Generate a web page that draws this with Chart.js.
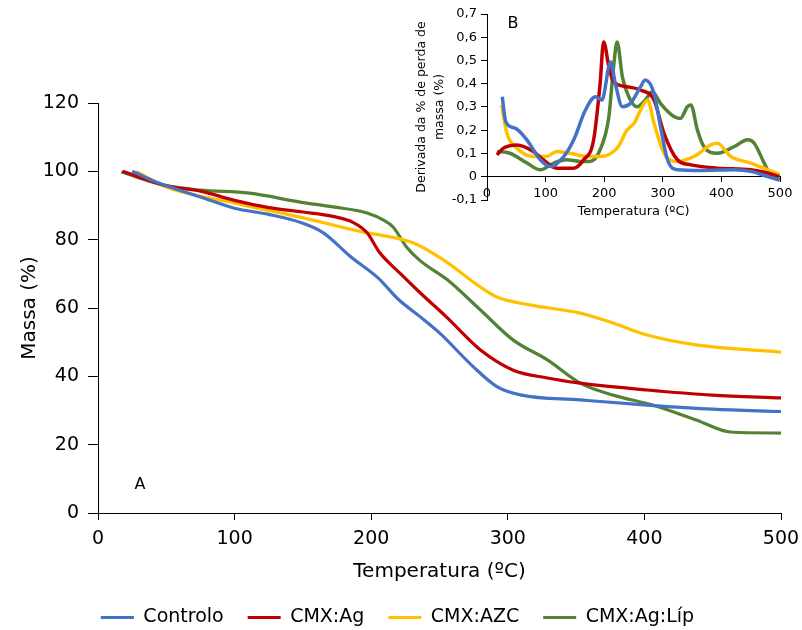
<!DOCTYPE html>
<html>
<head>
<meta charset="utf-8">
<script src="https://cdn.jsdelivr.net/npm/chart.js@4.4.0/dist/chart.umd.min.js"></script>
<style>
  html, body { margin: 0; padding: 0; background: #fff; overflow: hidden; }
  #wrap { position: relative; width: 802px; height: 630px; }
  #main { position: absolute; left: 0; top: 0; }
  #inset { position: absolute; left: 400px; top: 0; }
  .lbl { position: absolute; font-family: 'DejaVu Sans', sans-serif; font-size: 16px; color: #000; transform: translate(-50%, -50%); }
</style>
</head>
<body>
<div id="wrap">
  <canvas id="main" width="802" height="630"></canvas>
  <canvas id="inset" width="402" height="230"></canvas>
  <div class="lbl" style="left:140px;top:483px;">A</div>
  <div class="lbl" style="left:513px;top:22px;">B</div>
</div>
<script>
// ---------- Data (main chart: Massa (%) vs Temperatura) ----------
const seriesNames = ['Controlo', 'CMX:Ag', 'CMX:AZC', 'CMX:Ag:Líp'];
const seriesColors = ['#4472C4', '#C00000', '#FFC000', '#548235'];

const controloT     = [25, 45, 75, 100, 125, 150, 165, 185, 205, 220, 236, 250, 275, 292, 310, 353, 402, 450, 500];
const controloMassa = [100, 96.5, 92.5, 89.2, 87.4, 84.8, 82, 75, 68.8, 62.5, 57.4, 52.7, 42.7, 37, 34.5, 33.1, 31.6, 30.4, 29.7];

const agT     = [18, 50, 75, 100, 125, 150, 172, 187, 197, 206, 221, 236, 255, 280, 304, 329, 353, 402, 450, 500];
const agMassa = [100, 95.8, 94.2, 91.5, 89.4, 88.1, 86.8, 85, 82, 76.3, 70.2, 64.4, 57.4, 47.7, 41.8, 39.5, 38, 36, 34.5, 33.7];

const azcT     = [28, 50, 100, 148, 197, 206, 231, 255, 280, 292, 316, 353, 377, 402, 438, 500];
const azcMassa = [100, 95.4, 90.7, 86.6, 82, 81.4, 79, 73.5, 66.1, 63.2, 60.9, 58.5, 55.6, 52.1, 49.2, 47.1];

const lipT     = [17, 50, 75, 111, 148, 172, 197, 209, 216, 226, 236, 256, 280, 304, 329, 353, 377, 406, 438, 463, 500];
const lipMassa = [99.8, 95.8, 94.5, 93.6, 91, 89.6, 87.8, 85.7, 83.7, 77.8, 73.8, 68.2, 59.4, 50.6, 44.8, 38, 34.5, 31.6, 27.2, 23.7, 23.4];

// ---------- Data (inset: derivative of % mass loss) ----------
const controloDT = [26, 32, 48, 68, 91, 108, 131, 148, 168, 185, 196, 211, 219, 231, 245, 262, 270, 285, 296, 308, 325, 365, 422, 450, 479, 499];
const controloDeriv = [0.344, 0.237, 0.209, 0.159, 0.073, 0.044, 0.087, 0.159, 0.287, 0.344, 0.33, 0.494, 0.401, 0.301, 0.316, 0.387, 0.416, 0.359, 0.216, 0.073, 0.03, 0.027, 0.03, 0.023, 0.001, -0.013];

const agDT = [17, 28, 51, 79, 96, 119, 148, 165, 182, 193, 199, 208, 216, 239, 262, 285, 302, 325, 348, 393, 450, 479, 499];
const agDeriv = [0.094, 0.123, 0.137, 0.109, 0.073, 0.037, 0.037, 0.073, 0.159, 0.401, 0.58, 0.473, 0.409, 0.387, 0.373, 0.33, 0.187, 0.073, 0.051, 0.037, 0.03, 0.016, 0.001];

const azcDT = [25, 34, 51, 79, 102, 119, 142, 171, 193, 222, 239, 251, 262, 274, 285, 302, 325, 353, 382, 393, 416, 450, 479, 500];
const azcDeriv = [0.309, 0.187, 0.123, 0.087, 0.087, 0.109, 0.101, 0.087, 0.087, 0.123, 0.201, 0.23, 0.287, 0.33, 0.23, 0.101, 0.066, 0.087, 0.137, 0.144, 0.087, 0.059, 0.03, 0.009];

const lipDT = [17, 39, 68, 91, 114, 136, 159, 176, 193, 208, 216, 222, 231, 242, 256, 270, 282, 296, 319, 330, 342, 348, 359, 370, 393, 422, 445, 456, 473, 485, 500];
const lipDeriv = [0.109, 0.101, 0.059, 0.03, 0.059, 0.073, 0.066, 0.066, 0.116, 0.259, 0.473, 0.58, 0.43, 0.344, 0.301, 0.33, 0.366, 0.316, 0.259, 0.251, 0.301, 0.309, 0.201, 0.13, 0.101, 0.13, 0.159, 0.144, 0.059, 0.001, -0.013];

const mainXTicks = [0, 100, 200, 300, 400, 500];
const mainYTicks = [0, 20, 40, 60, 80, 100, 120];

// ---------- helpers ----------
function pts(xs, ys) { return xs.map((x, i) => ({ x: x, y: ys[i] })); }
function ds(label, color, xs, ys, w) {
  return {
    label: label, data: pts(xs, ys),
    borderColor: color, backgroundColor: color,
    borderWidth: w, pointRadius: 0, fill: false,
    cubicInterpolationMode: 'monotone'
  };
}

Chart.defaults.font.family = "'DejaVu Sans', sans-serif";
Chart.defaults.color = '#000';

// ---------- Main chart ----------
new Chart(document.getElementById('main'), {
  type: 'line',
  data: {
    datasets: [
      ds(seriesNames[0], seriesColors[0], controloT, controloMassa, 3.2),
      ds(seriesNames[1], seriesColors[1], agT, agMassa, 3.2),
      ds(seriesNames[2], seriesColors[2], azcT, azcMassa, 3.2),
      ds(seriesNames[3], seriesColors[3], lipT, lipMassa, 3.2)
    ]
  },
  options: {
    responsive: false,
    animation: false,
    layout: { padding: { top: 103, right: 21, left: 14, bottom: -7 } },
    plugins: {
      tooltip: { enabled: false },
      legend: {
        position: 'bottom',
        labels: {
          boxWidth: 33, boxHeight: 3, padding: 24,
          font: { size: 19 }, color: '#000',
          generateLabels: function (chart) {
            const items = Chart.defaults.plugins.legend.labels.generateLabels(chart);
            items.forEach(it => { it.lineWidth = 0; it.fillStyle = it.strokeStyle; });
            return items;
          }
        }
      }
    },
    scales: {
      x: {
        type: 'linear', min: 0, max: 500,
        afterBuildTicks: s => { s.ticks = mainXTicks.map(v => ({ value: v })); },
        ticks: { font: { size: 19 }, color: '#000', padding: 8, maxRotation: 0 },
        grid: { drawOnChartArea: false, drawTicks: true, tickLength: 7, color: '#000' },
        border: { display: true, color: '#000', width: 1 },
        title: { display: true, text: 'Temperatura (ºC)', font: { size: 20 }, color: '#000', padding: { top: 0, bottom: 0 } },
        afterFit: s => { s.height = 71; s.paddingRight = 0; s.paddingLeft = 0; }
      },
      y: {
        type: 'linear', min: 0, max: 120,
        afterBuildTicks: s => { s.ticks = mainYTicks.map(v => ({ value: v })); },
        ticks: { font: { size: 19 }, color: '#000', padding: 9 },
        grid: { drawOnChartArea: false, drawTicks: true, tickLength: 10, color: '#000' },
        border: { display: true, color: '#000', width: 1 },
        title: { display: true, text: 'Massa (%)', font: { size: 20 }, color: '#000', padding: { top: 4, bottom: 4 } },
        afterFit: s => { s.width = 84; }
      }
    }
  }
});

// ---------- Inset chart ----------
const insetXTicks = [0, 100, 200, 300, 400, 500];
const insetYTicks = [-0.1, 0, 0.1, 0.2, 0.3, 0.4, 0.5, 0.6, 0.7];
function fmtComma(v) { return Math.abs(v) < 1e-9 ? '0' : v.toFixed(1).replace('.', ','); }

new Chart(document.getElementById('inset'), {
  type: 'line',
  data: {
    datasets: [
      ds(seriesNames[0], seriesColors[0], controloDT, controloDeriv, 3.5),
      ds(seriesNames[1], seriesColors[1], agDT, agDeriv, 3.5),
      ds(seriesNames[2], seriesColors[2], azcDT, azcDeriv, 3.5),
      ds(seriesNames[3], seriesColors[3], lipDT, lipDeriv, 3.5)
    ]
  },
  options: {
    responsive: false,
    animation: false,
    layout: { padding: { top: 14, right: 22, bottom: 30, left: 0 } },
    plugins: { legend: { display: false }, tooltip: { enabled: false } },
    scales: {
      x: {
        type: 'linear', min: 0, max: 500,
        position: { y: 0 },
        afterBuildTicks: s => { s.ticks = insetXTicks.map(v => ({ value: v })); },
        ticks: { font: { size: 13 }, color: '#000', padding: 4, maxRotation: 0 },
        grid: { drawOnChartArea: false, drawTicks: true, tickLength: 5, color: '#000' },
        border: { display: true, color: '#000', width: 1 },
        title: { display: true, text: 'Temperatura (ºC)', font: { size: 13 }, color: '#000', padding: { top: 0, bottom: 0 } },
        afterFit: s => { s.height = 43; }
      },
      y: {
        type: 'linear', min: -0.1, max: 0.7,
        afterBuildTicks: s => { s.ticks = insetYTicks.map(v => ({ value: v })); },
        ticks: { font: { size: 13 }, color: '#000', padding: 4, callback: v => fmtComma(v) },
        grid: { drawOnChartArea: false, drawTicks: true, tickLength: 6, color: '#000' },
        border: { display: true, color: '#000', width: 1 },
        title: { display: true, text: ['Derivada da % de perda de', 'massa (%)'], font: { size: 12.5, lineHeight: 1.45 }, color: '#000', padding: { top: 13, bottom: 0 } },
        afterFit: s => { s.width = 87; }
      }
    }
  }
});
</script>
</body>
</html>
